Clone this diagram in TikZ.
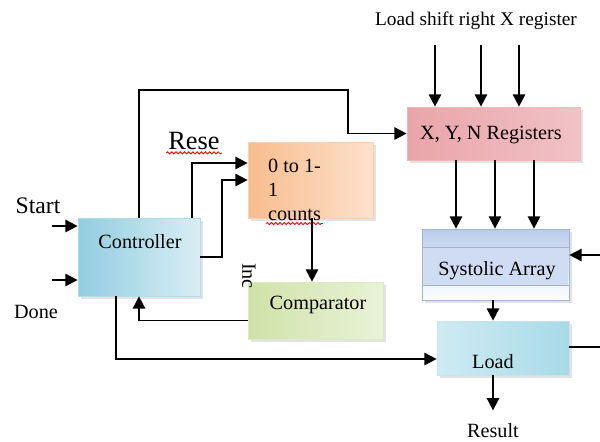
\documentclass[tikz,border=0pt]{standalone}
\usepackage{fontspec}
\setmainfont{Liberation Serif}
\usetikzlibrary{arrows.meta,shadows,decorations.pathmorphing}

\definecolor{ctrlblue}{HTML}{92CDE0}
\definecolor{cntorange}{HTML}{F8BD8E}
\definecolor{cmpgreen}{HTML}{CFE2A8}
\definecolor{regpink}{HTML}{E79AA0}
\definecolor{sysblue}{HTML}{A9C0E6}
\definecolor{loadblue}{HTML}{A8DAE8}

\tikzset{
  blk/.style={rectangle, inner sep=0pt, line width=0.4pt,
    drop shadow={opacity=0.22, shadow xshift=1.6pt, shadow yshift=-1.6pt}},
  lbl/.style={inner sep=1pt, font=\rmfamily\fontsize{11.5}{13.6}\selectfont},
  arr/.style={line width=1pt, -{Triangle[length=7pt,width=7pt]}},
  wire/.style={line width=1pt},
  spell/.style={red, line width=0.5pt, decorate,
    decoration={snake, amplitude=0.6pt, segment length=2.4pt}}
}

\begin{document}
\begin{tikzpicture}[x=0.02cm, y=-0.02cm]
  \useasboundingbox (0,0) rectangle (600,441);

  % Bloques
  \node[blk, minimum width=2.44cm, minimum height=1.56cm, draw=ctrlblue!70,
        left color=ctrlblue, right color=ctrlblue!35] (ctrl) at (139,257) {};
  \node[blk, minimum width=2.5cm, minimum height=1.52cm, draw=cntorange!70,
        left color=cntorange, right color=cntorange!45] (cnt) at (310.5,180) {};
  \node[blk, minimum width=2.7cm, minimum height=1.14cm, draw=cmpgreen!70,
        left color=cmpgreen, right color=cmpgreen!45] (cmp) at (315.5,310.5) {};
  \node[blk, minimum width=3.46cm, minimum height=1.06cm, draw=regpink!70,
        left color=regpink!90, right color=regpink!60] (reg) at (493.5,133.5) {};
  \node[blk, minimum width=2.94cm, minimum height=1.42cm, draw=sysblue!80!gray,
        top color=sysblue!80, bottom color=white] (sys) at (495.5,264.5) {};
  \fill[sysblue!55] (423,247) rectangle (568,285);
  \draw[sysblue!80!gray, line width=0.4pt] (422,247) -- (569,247) (422,285) -- (569,285);
  \node[blk, minimum width=2.64cm, minimum height=1.08cm, draw=loadblue!70,
        left color=loadblue!55, right color=loadblue] (load) at (503,348) {};

  % Textos de los bloques
  \node[lbl] (ctrltxt) at (140,242) {Controller};
  \node[lbl, anchor=base west] (cnta) at (266,172) {0 to 1-};
  \node[lbl, anchor=base west] (cntb) at (266,196) {1};
  \node[lbl, anchor=base west] (cntc) at (266,220) {counts};
  \node[lbl] (cmptxt) at (318,305) {Comparator};
  \node[lbl] (regtxt) at (491,135) {X, Y, N Registers};
  \node[lbl] (systxt) at (497,271) {Systolic Array};
  \node[lbl] (loadtxt) at (493,362) {Load};

  % Etiquetas sueltas
  \node[lbl, font=\rmfamily\fontsize{13.5}{15}\selectfont, anchor=base] (start) at (38,213) {Start};
  \node[lbl, anchor=base] (done) at (36,318) {Done};
  \node[lbl, font=\rmfamily\fontsize{15}{17}\selectfont, anchor=base] (rese) at (194,149) {Rese};
  \node[lbl, rotate=-90] (inc) at (249,276) {Inc};
  \node[lbl, anchor=base] (res) at (493,437) {Result};
  \node[lbl, font=\rmfamily\fontsize{11}{12}\selectfont, anchor=base] (ldsh) at (476,25) {Load shift right X register};
  \draw[spell] ([yshift=-2.2pt]rese.base west) -- ([yshift=-2.2pt]rese.base east);
  \draw[spell] ([yshift=-2pt]cntc.base west) -- ([yshift=-2pt]cntc.base east);

  % Entradas
  \coordinate (st) at (52,226);
  \coordinate (dn) at (52,280);
  \draw[arr] (st) -- (st -| ctrl.west);
  \draw[arr] (dn) -- (dn -| ctrl.west);
  \foreach \x [count=\i] in {435,481,519} {
    \coordinate (in\i) at (\x,45);
    \draw[arr] (in\i) -- (in\i |- reg.north);
  }
  \coordinate (rin) at (600,255);
  \draw[arr] (rin) -- (rin -| sys.east);
  \coordinate (rout) at (600,347);
  \draw[wire] (rout -| load.east) -- (rout);

  % Conexiones
  \draw[arr] (ctrl.north) |- (348,90) |- (reg.west);
  \draw[arr] ([xshift=1.06cm]ctrl.north) |- ([yshift=0.34cm]cnt.west);
  \draw[arr] (ctrl.east) -- ++(22,0) |- (cnt.west);
  \draw[arr] (cnt.south -| 312,0) -- (cmp.north -| 312,0);
  \draw[arr] ([yshift=-0.2cm]cmp.west) -| (ctrl.south);
  \draw[arr] ([xshift=-0.46cm]ctrl.south) |- ([yshift=-0.22cm]load.west);
  \foreach \x in {456,495,534}
    \draw[arr] (reg.south -| \x,0) -- (sys.north -| \x,0);
  \draw[arr] (sys.south -| 493,0) -- (load.north -| 493,0);
  \draw[arr] (load.south -| res) -- ++(0,35);
\end{tikzpicture}
\end{document}
